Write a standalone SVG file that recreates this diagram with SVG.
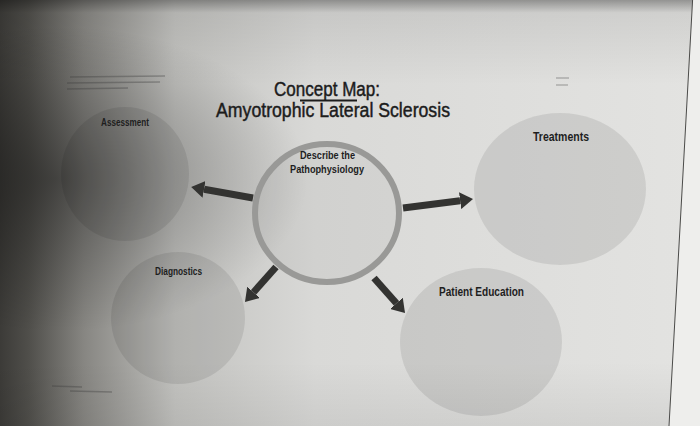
<svg xmlns="http://www.w3.org/2000/svg" width="700" height="426" viewBox="0 0 700 426">
  <defs>
    <linearGradient id="bgH" x1="0" y1="0" x2="1" y2="0">
      <stop offset="0" stop-color="#3c3b38"/>
      <stop offset="0.04" stop-color="#4f4e4a"/>
      <stop offset="0.12" stop-color="#878682"/>
      <stop offset="0.25" stop-color="#c2c2bf"/>
      <stop offset="0.45" stop-color="#d9d9d7"/>
      <stop offset="1" stop-color="#e3e3e1"/>
    </linearGradient>
    <linearGradient id="bgV" x1="0" y1="0" x2="0" y2="1">
      <stop offset="0" stop-color="#000" stop-opacity="0.35"/>
      <stop offset="0.03" stop-color="#000" stop-opacity="0.08"/>
      <stop offset="0.2" stop-color="#000" stop-opacity="0"/>
      <stop offset="0.85" stop-color="#000" stop-opacity="0"/>
      <stop offset="1" stop-color="#000" stop-opacity="0.06"/>
    </linearGradient>
    <radialGradient id="shadow" cx="0.08" cy="0.42" r="0.36">
      <stop offset="0" stop-color="#000" stop-opacity="0.38"/>
      <stop offset="0.6" stop-color="#000" stop-opacity="0.15"/>
      <stop offset="1" stop-color="#000" stop-opacity="0"/>
    </radialGradient>
    <marker id="head" markerUnits="userSpaceOnUse" markerWidth="13" markerHeight="17" viewBox="0 0 13 17" refX="0" refY="8.5" orient="auto">
      <path d="M0,0 L13,8.5 L0,17 z" fill="#333331"/>
    </marker>
  </defs>
  <style>
    .bubble { fill: #000; fill-opacity: 0.085; }
    .label { font-family: "Liberation Sans Narrow", "Liberation Sans", Arial, sans-serif; font-weight: bold; fill: #1e1e1e; }
    .title { font-family: "Liberation Sans Narrow", "Liberation Sans", Arial, sans-serif; font-size: 20px; fill: #1c1c1c; stroke: #1c1c1c; stroke-width: 0.45; text-anchor: middle; }
    .arrow { stroke: #333331; stroke-width: 7; fill: none; marker-end: url(#head); }
    .faint { stroke: #3a3a38; stroke-opacity: 0.35; stroke-width: 1.3; }
  </style>

  <rect width="700" height="426" fill="url(#bgH)"/>
  <rect width="700" height="426" fill="url(#bgV)"/>
  <rect width="700" height="426" fill="url(#shadow)"/>
  <polygon points="692.6,0 700,0 700,426 669,426" fill="#eeeeec"/>
  <line x1="692.6" y1="0" x2="669" y2="426" stroke="#4a4a48" stroke-width="1"/>

  <g id="faint-notes">
    <line class="faint" x1="70" y1="77" x2="165" y2="76"/>
    <line class="faint" x1="67" y1="83" x2="160" y2="82"/>
    <line class="faint" x1="67" y1="89" x2="128" y2="88"/>
    <line class="faint" x1="556" y1="78" x2="569" y2="78"/>
    <line class="faint" x1="556" y1="85" x2="568" y2="85"/>
    <line class="faint" x1="52" y1="386" x2="82" y2="387"/>
    <line class="faint" x1="70" y1="391" x2="112" y2="392"/>
  </g>

  <g id="title">
    <text class="title" x="327" y="96" textLength="106" lengthAdjust="spacingAndGlyphs">Concept Map:</text>
    <line x1="300" y1="100.5" x2="357" y2="100.5" stroke="#1c1c1c" stroke-width="2"/>
    <text class="title" x="333" y="117" textLength="234" lengthAdjust="spacingAndGlyphs">Amyotrophic Lateral Sclerosis</text>
  </g>

  <g id="assessment">
    <ellipse class="bubble" cx="125" cy="174" rx="64" ry="67"/>
    <text class="label" x="125" y="126" font-size="11" text-anchor="middle" textLength="48" lengthAdjust="spacingAndGlyphs">Assessment</text>
  </g>

  <g id="treatments">
    <ellipse class="bubble" cx="560" cy="189" rx="86" ry="76"/>
    <text class="label" x="561" y="141" font-size="13" text-anchor="middle" textLength="56" lengthAdjust="spacingAndGlyphs">Treatments</text>
  </g>

  <g id="diagnostics">
    <ellipse class="bubble" cx="178" cy="318" rx="67" ry="66"/>
    <text class="label" x="178.5" y="275" font-size="11" text-anchor="middle" textLength="47" lengthAdjust="spacingAndGlyphs">Diagnostics</text>
  </g>

  <g id="patient-education">
    <ellipse class="bubble" cx="481" cy="342" rx="81" ry="74"/>
    <text class="label" x="481.5" y="296" font-size="12" text-anchor="middle" textLength="85" lengthAdjust="spacingAndGlyphs">Patient Education</text>
  </g>

  <g id="pathophysiology">
    <ellipse cx="327" cy="213" rx="72" ry="69" fill="#000" fill-opacity="0.035" stroke="#999997" stroke-width="6"/>
    <text class="label" x="327.5" y="159" font-size="11" text-anchor="middle" textLength="55" lengthAdjust="spacingAndGlyphs">Describe the</text>
    <text class="label" x="327" y="173" font-size="11" text-anchor="middle" textLength="74" lengthAdjust="spacingAndGlyphs">Pathophysiology</text>
  </g>

  <g id="connectors">
    <line class="arrow" x1="253" y1="198" x2="204" y2="189.3"/>
    <line class="arrow" x1="403" y1="208" x2="460.1" y2="200.7"/>
    <line class="arrow" x1="276" y1="267" x2="253.6" y2="292.3"/>
    <line class="arrow" x1="374" y1="278" x2="396.4" y2="303.3"/>
  </g>
</svg>
